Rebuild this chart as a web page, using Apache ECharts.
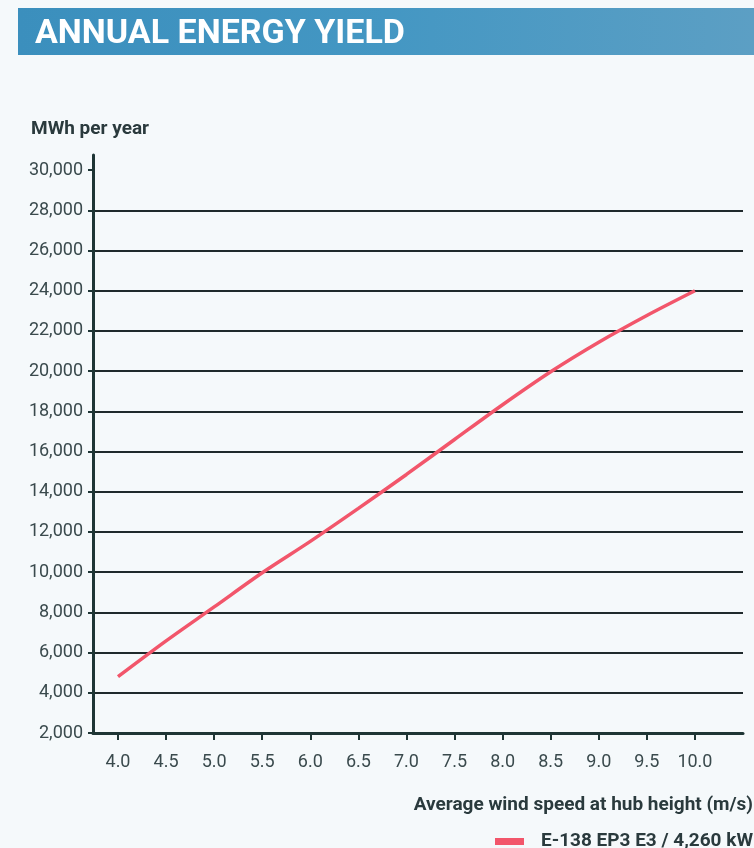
<!DOCTYPE html>
<html>
<head>
<meta charset="utf-8">
<script src="https://cdn.jsdelivr.net/npm/echarts@6/dist/echarts.min.js"></script>
<style>
  html, body { margin: 0; padding: 0; background: #f5f9fb; }
  #main { width: 754px; height: 848px; }
</style>
</head>
<body>
<div id="main"></div>
<script>
// wind speed (m/s) and annual yield (MWh per year)
var windSpeed = [4.0, 4.5, 5.0, 5.5, 6.0, 6.5, 7.0, 7.5, 8.0, 8.5, 9.0, 9.5, 10.0];
var yieldMWh = [4800, 6580, 8270, 9970, 11530, 13170, 14860, 16600, 18330, 19970, 21440, 22770, 24000];
var xTicks = [4.0, 4.5, 5.0, 5.5, 6.0, 6.5, 7.0, 7.5, 8.0, 8.5, 9.0, 9.5, 10.0];
var yTicks = [2000, 4000, 6000, 8000, 10000, 12000, 14000, 16000, 18000, 20000, 22000, 24000, 26000, 28000, 30000];
var seriesName = 'E-138 EP3 E3 / 4,260 kW';

var FONT = 'Roboto';
var chart = echarts.init(document.getElementById('main'));

chart.setOption({
  backgroundColor: '#f5f9fb',
  animation: false,
  graphic: [
    {
      // blue header banner
      type: 'rect',
      left: 18, top: 8,
      shape: { width: 736, height: 47 },
      style: {
        fill: new echarts.graphic.LinearGradient(0, 0, 1, 0, [
          { offset: 0, color: '#3b8fbd' },
          { offset: 0.5, color: '#4497c3' },
          { offset: 1, color: '#5c9fc4' }
        ])
      }
    }
  ],
  title: [
    {
      text: 'ANNUAL ENERGY YIELD',
      left: 30, top: 12,
      textStyle: { color: '#ffffff', fontFamily: FONT, fontWeight: 'bold', fontSize: 34 }
    },
    {
      text: 'MWh per year',
      left: 26, top: 115,
      textStyle: { color: '#2a3a3d', fontFamily: FONT, fontWeight: 'bold', fontSize: 19 }
    },
    {
      text: 'Average wind speed at hub height (m/s)',
      right: -4, top: 791,
      textStyle: { color: '#2a3a3d', fontFamily: FONT, fontWeight: 'bold', fontSize: 19 }
    }
  ],
  legend: {
    right: -4, top: 827,
    icon: 'rect',
    itemWidth: 29, itemHeight: 7,
    itemGap: 10,
    data: [seriesName],
    textStyle: { color: '#2a3a3d', fontFamily: FONT, fontWeight: 'bold', fontSize: 19, padding: [0, 0, 0, 12] }
  },
  grid: { left: 93, right: 11, top: 155, bottom: 115, containLabel: false },
  xAxis: {
    type: 'value',
    min: 3.74, max: 10.5,
    axisLine: { lineStyle: { color: '#1e3535', width: 3 } },
    axisTick: { customValues: xTicks, length: 7, lineStyle: { color: '#1e3535', width: 2 } },
    axisLabel: {
      customValues: xTicks,
      margin: 20,
      color: '#3a4a4d', fontFamily: FONT, fontSize: 18,
      formatter: function (v) { return v.toFixed(1); }
    },
    splitLine: { show: false }
  },
  yAxis: {
    type: 'value',
    min: 2000, max: 30750, interval: 2000,
    axisLine: { show: true, lineStyle: { color: '#1e3535', width: 3 } },
    axisTick: { show: true, customValues: yTicks, length: 5, lineStyle: { color: '#1e3535', width: 2 } },
    axisLabel: {
      customValues: yTicks,
      margin: 10,
      color: '#3a4a4d', fontFamily: FONT, fontSize: 18,
      formatter: function (v) { return v.toLocaleString('en-US'); }
    },
    splitLine: { show: true, showMaxLine: false, lineStyle: { color: '#1f2a2c', width: 2 } }
  },
  series: [
    {
      name: seriesName,
      type: 'line',
      data: windSpeed.map(function (x, i) { return [x, yieldMWh[i]]; }),
      smooth: 0.3,
      showSymbol: false,
      itemStyle: { color: '#f2566b' },
      lineStyle: { color: '#f2566b', width: 3.5 }
    }
  ]
});
</script>
</body>
</html>
